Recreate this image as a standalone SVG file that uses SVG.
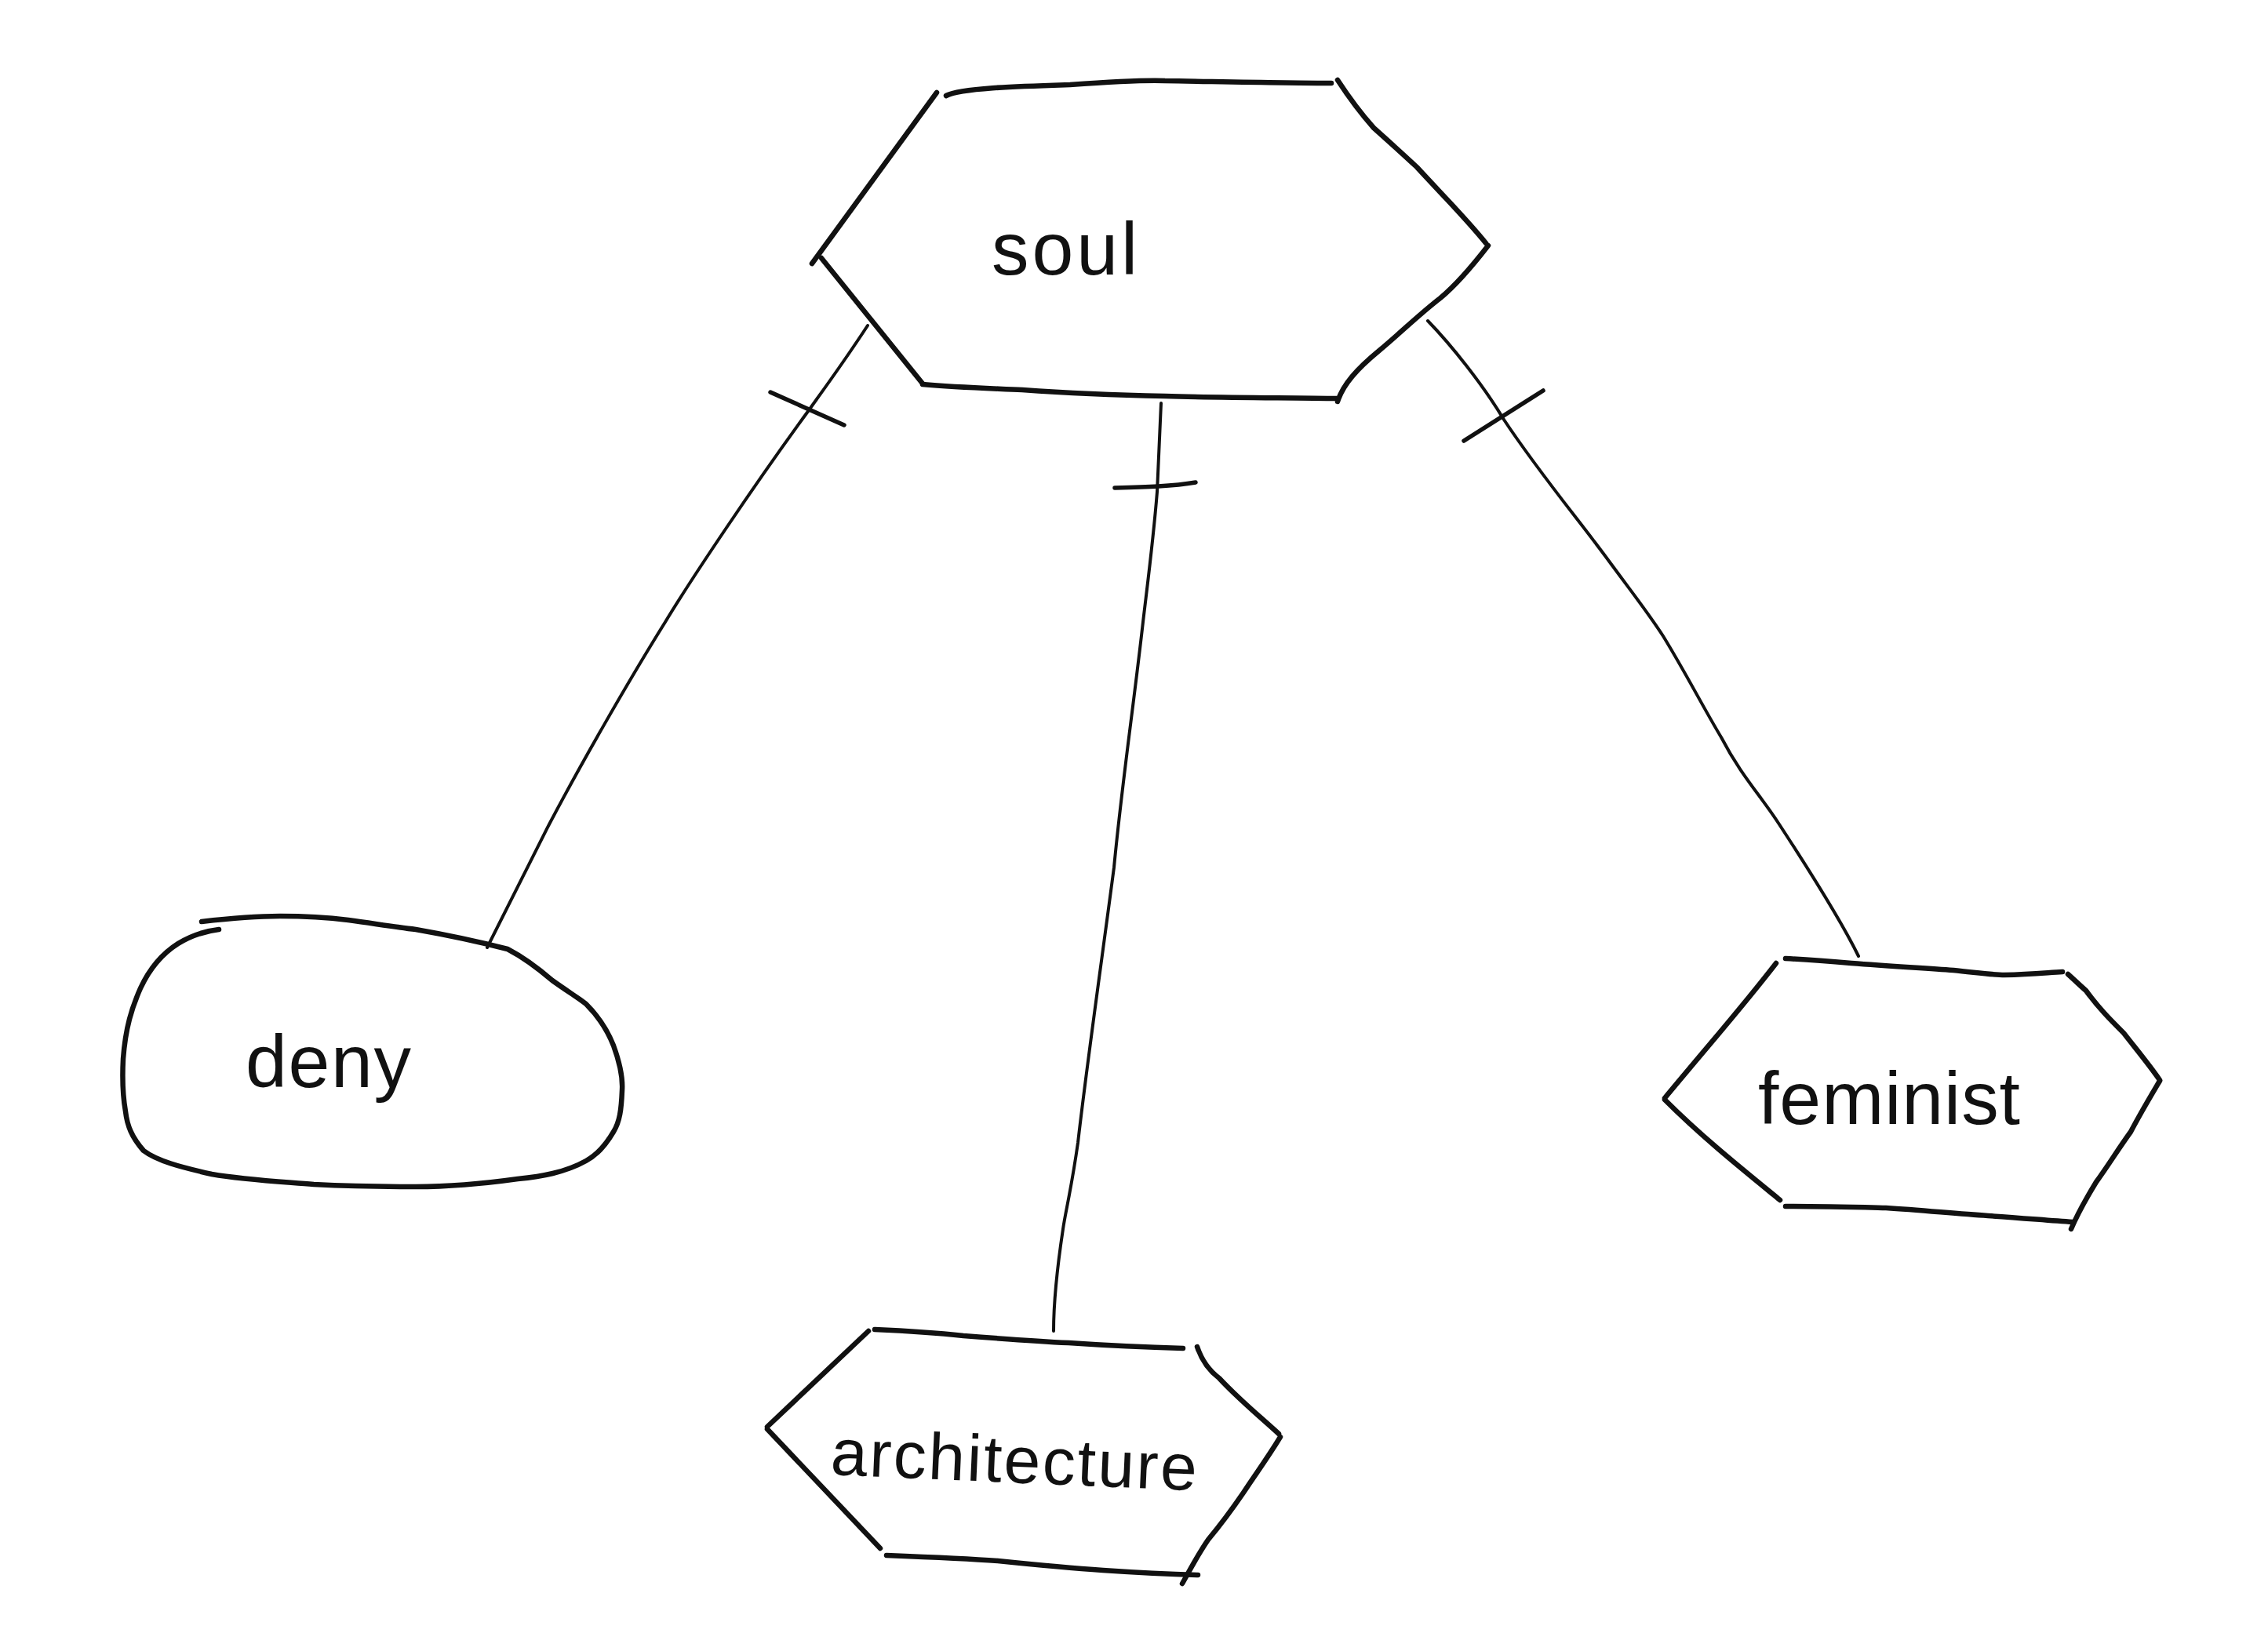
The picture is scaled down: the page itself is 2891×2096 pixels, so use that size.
<svg xmlns="http://www.w3.org/2000/svg" width="2891" height="2096" viewBox="0 0 2891 2096">
  <style>
    .edge { fill: none; stroke: #111; stroke-width: 6.5; stroke-linecap: round; stroke-linejoin: round; }
    .link { fill: none; stroke: #111; stroke-width: 4; stroke-linecap: round; stroke-linejoin: round; }
    .tick { fill: none; stroke: #111; stroke-width: 5.5; stroke-linecap: round; }
    .label { font-family: "Liberation Sans", "DejaVu Sans", sans-serif; font-size: 95px; fill: #111; }
  </style>
  <rect width="2891" height="2096" fill="#ffffff"/>

  <!-- connectors from the central hexagon -->
  <g id="connectors">
    <path class="link" d="M1106,415 C1070,470 1040,510 1031,523 C960,620 880,740 848,793 C800,870 740,975 700,1051 C670,1110 640,1170 621,1208"/>
    <path class="tick" d="M982,500 L1076,542"/>
    <path class="link" d="M1480,514 L1475,627 C1470,690 1462,750 1457,793 C1445,900 1430,1000 1420,1106 C1405,1220 1385,1360 1374,1457 C1365,1520 1358,1545 1355,1567 C1347,1620 1343,1660 1343,1697"/>
    <path class="tick" d="M1421,622 C1460,621 1495,620 1524,615"/>
    <path class="link" d="M1820,409 C1850,440 1890,490 1917,535 C1960,600 2010,660 2047,710 C2080,755 2100,780 2120,811 C2150,860 2170,900 2194,940 C2220,990 2245,1015 2268,1051 C2300,1100 2345,1170 2369,1219"/>
    <path class="tick" d="M1866,562 L1967,498"/>
  </g>

  <!-- soul -->
  <g id="node-soul">
    <path class="edge" d="M1206,122 C1225,112 1300,110 1364,108 C1420,104 1460,102 1485,103 C1550,104 1640,106 1697,106"/>
    <path class="edge" d="M1194,118 L1035,336"/>
    <path class="edge" d="M1047,329 L1176,489"/>
    <path class="edge" d="M1176,490 C1220,494 1260,495 1303,497 C1370,502 1430,504 1485,505 C1550,507 1640,507 1705,508"/>
    <path class="edge" d="M1705,512 C1712,490 1730,470 1758,447 C1790,420 1810,400 1836,380 C1860,360 1880,335 1897,313"/>
    <path class="edge" d="M1705,102 C1720,125 1735,145 1751,163 C1770,180 1790,198 1806,213 C1840,250 1870,280 1894,310"/>
    <text class="label" x="1264" y="350" textLength="186" lengthAdjust="spacing">soul</text>
  </g>

  <!-- deny -->
  <g id="node-deny">
    <path class="edge" d="M257,1175 C300,1170 330,1168 357,1168 C400,1168 420,1170 444,1173 C480,1178 505,1182 530,1185 C570,1192 600,1198 647,1210 C670,1222 690,1238 704,1250 C725,1265 737,1272 747,1280 C765,1298 775,1315 782,1333 C790,1355 794,1375 793,1390 C792,1415 790,1430 782,1443 C772,1460 762,1472 747,1480 C720,1495 690,1500 660,1503 C610,1510 570,1513 530,1513 C480,1513 440,1512 400,1510 C350,1506 310,1504 270,1497 C230,1488 200,1480 183,1467 C168,1450 162,1435 160,1417 C156,1395 156,1370 157,1350 C160,1310 168,1285 179,1260 C192,1232 208,1215 227,1203 C245,1192 262,1187 279,1185"/>
    <text class="label" x="313" y="1386" textLength="211" lengthAdjust="spacing">deny</text>
  </g>

  <!-- architecture -->
  <g id="node-architecture">
    <path class="edge" d="M1115,1695 C1160,1697 1200,1700 1228,1703 C1280,1707 1320,1710 1362,1712 C1420,1716 1470,1718 1508,1719"/>
    <path class="edge" d="M1107,1697 L978,1819"/>
    <path class="edge" d="M978,1822 L1122,1974"/>
    <path class="edge" d="M1130,1983 C1180,1985 1230,1987 1272,1990 C1320,1995 1360,1999 1406,2002 C1450,2005 1490,2007 1527,2008"/>
    <path class="edge" d="M1526,1717 C1532,1735 1542,1748 1554,1757 C1580,1785 1605,1805 1630,1828"/>
    <path class="edge" d="M1632,1832 C1615,1860 1600,1880 1585,1903 C1570,1925 1555,1945 1540,1963 C1525,1985 1515,2005 1507,2019"/>
    <text class="label" x="1058" y="1880" textLength="467" lengthAdjust="spacing" style="font-size:84px" transform="rotate(2.5 1058 1880)">architecture</text>
  </g>

  <!-- feminist -->
  <g id="node-feminist">
    <path class="edge" d="M2276,1222 C2310,1224 2335,1226 2360,1228 C2410,1232 2450,1234 2490,1237 C2520,1240 2540,1243 2555,1243 C2590,1242 2610,1240 2629,1239"/>
    <path class="edge" d="M2264,1228 C2220,1285 2180,1330 2122,1400"/>
    <path class="edge" d="M2122,1402 C2170,1450 2220,1490 2269,1530"/>
    <path class="edge" d="M2276,1538 C2320,1538 2360,1539 2404,1540 C2450,1543 2490,1547 2534,1550 C2580,1553 2610,1556 2642,1558"/>
    <path class="edge" d="M2636,1242 C2645,1250 2652,1257 2659,1263 C2675,1285 2690,1300 2707,1317 C2725,1340 2740,1358 2753,1377"/>
    <path class="edge" d="M2753,1378 C2740,1400 2728,1420 2716,1443 C2700,1465 2688,1485 2672,1507 C2658,1530 2648,1548 2640,1567"/>
    <text class="label" x="2241" y="1433" textLength="334" lengthAdjust="spacing">feminist</text>
  </g>
</svg>
